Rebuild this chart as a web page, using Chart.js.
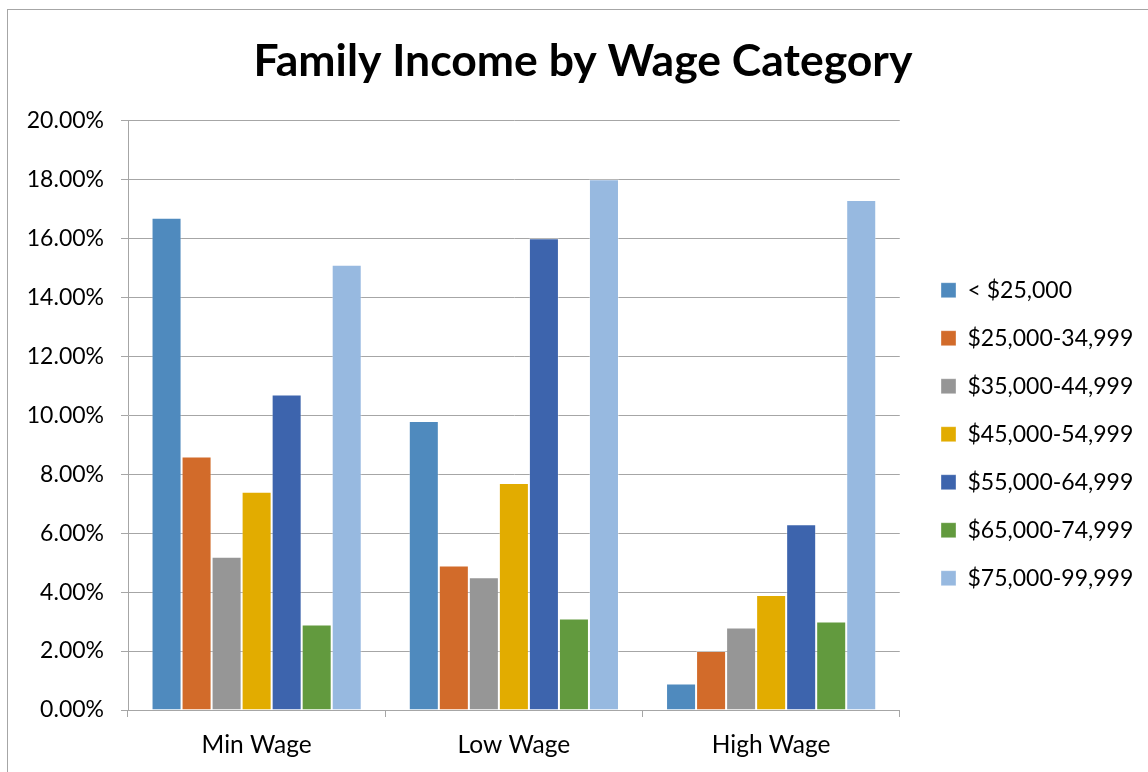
<!DOCTYPE html>
<html>
<head>
<meta charset="utf-8">
<script src="https://cdn.jsdelivr.net/npm/chart.js@4"></script>
<style>
  html, body { margin:0; padding:0; background:#fff; }
  #wrap { position:relative; width:1148px; height:772px; overflow:hidden; }
  #frame { position:absolute; left:7px; top:9px; width:1200px; height:800px;
           border-left:1.5px solid #a6a6a6; border-top:1.5px solid #a6a6a6; }
  canvas { position:absolute; left:0; top:0; }
</style>
</head>
<body>
<div id="wrap">
  <div id="frame"></div>
  <canvas id="grafico" width="1148" height="772"></canvas>
</div>
<script>
// --- Dados ---
const categorias = ["Min Wage", "Low Wage", "High Wage"];
const faixas = ["< $25,000", "$25,000-34,999", "$35,000-44,999", "$45,000-54,999",
                "$55,000-64,999", "$65,000-74,999", "$75,000-99,999"];
const abaixo25   = [16.7, 9.8, 0.9];
const de25a35    = [8.6, 4.9, 2.0];
const de35a45    = [5.2, 4.5, 2.8];
const de45a55    = [7.4, 7.7, 3.9];
const de55a65    = [10.7, 16.0, 6.3];
const de65a75    = [2.9, 3.1, 3.0];
const de75a100   = [15.1, 18.0, 17.3];
const ticksY = [0, 2, 4, 6, 8, 10, 12, 14, 16, 18, 20];

const series = [abaixo25, de25a35, de35a45, de45a55, de55a65, de65a75, de75a100];
const cores = ["#4f8abe", "#d26b2a", "#969696", "#e2ac00", "#3d64ad", "#629a3e", "#97b9e0"];

const fonte = "Lato, 'Liberation Sans', sans-serif";
const cinza = "#a6a6a6";

// --- Ajuste de posições (título e legenda) ---
const ajustes = {
    id: "ajustes",
    afterLayout(chart){
        const t = chart.titleBlock;
        const w = t.right - t.left;
        t.left = 583 - w/2;
        t.right = t.left + w;
        const lg = chart.legend;
        const lw = lg.right - lg.left;
        lg.left = 916;
        lg.right = lg.left + lw;
        lg.top += 19;
        lg.bottom += 19;
    }
};

new Chart(document.getElementById("grafico"), {
    type: "bar",
    data: {
        labels: categorias,
        datasets: series.map((s, i) => ({
            label: faixas[i],
            data: s,
            backgroundColor: cores[i],
            borderColor: "rgba(255,255,255,0.35)",
            borderWidth: 1
        }))
    },
    options: {
        responsive: false,
        animation: false,
        layout: { padding: { top: 0, left: 0, right: 21, bottom: 0 } },
        datasets: { bar: { categoryPercentage: 0.817, barPercentage: 1.0 } },
        plugins: {
            title: {
                display: true,
                text: "Family Income by Wage Category",
                color: "#000",
                font: { family: fonte, size: 44.5, weight: "bold", lineHeight: 1.2 },
                padding: { top: 35, bottom: 32 }
            },
            legend: {
                position: "right",
                fullSize: false,
                labels: {
                    color: "#000",
                    font: { family: fonte, size: 23, lineHeight: 1.2 },
                    boxWidth: 15,
                    boxHeight: 15,
                    padding: 25
                }
            },
            tooltip: { enabled: false }
        },
        scales: {
            x: {
                afterFit(scale){ scale.height = 62; },
                grid: { drawOnChartArea: false, drawTicks: true, tickLength: 7, color: cinza, offset: true },
                border: { color: cinza },
                ticks: { color: "#000", font: { family: fonte, size: 24.5 }, padding: 13 }
            },
            y: {
                min: 0,
                max: 20,
                afterFit(scale){ scale.width = 128; },
                afterBuildTicks(scale){ scale.ticks = ticksY.map(v => ({ value: v })); },
                grid: { color: cinza, tickLength: 7 },
                border: { color: cinza },
                ticks: {
                    color: "#000",
                    font: { family: fonte, size: 23 },
                    padding: 17,
                    callback: v => v.toFixed(2) + "%"
                }
            }
        }
    },
    plugins: [ajustes]
});
</script>
</body>
</html>
